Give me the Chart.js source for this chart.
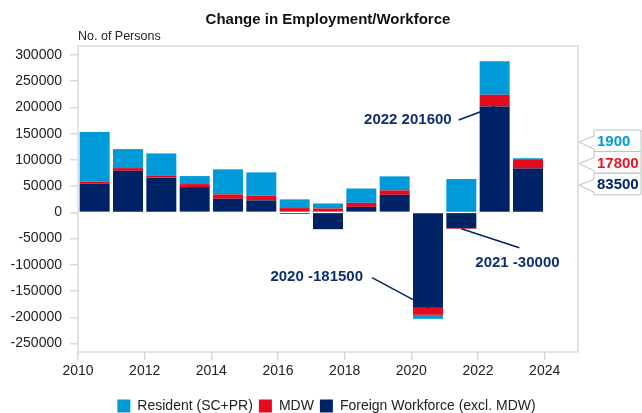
<!DOCTYPE html>
<html>
<head>
<meta charset="utf-8">
<title>Change in Employment/Workforce</title>
<script src="https://cdn.jsdelivr.net/npm/chart.js@4"></script>
<style>
    html, body { margin: 0; padding: 0; background: #ffffff; }
    #wrap { width: 642px; height: 413px; }
</style>
</head>
<body>
<div id="wrap"><canvas id="employmentChart" width="642" height="413"></canvas></div>
<script>
// values (persons), one entry per year
const years = [2010, 2011, 2012, 2013, 2014, 2015, 2016, 2017, 2018, 2019, 2020, 2021, 2022, 2023];
const foreign = [54500, 79300, 66700, 48200, 25900, 22900, -2700, -32000, 10500, 33500, -181500, -30000, 201600, 83500];
const mdw = [4600, 5100, 3800, 5700, 8400, 8700, 8200, 7500, 7700, 8400, -13700, -1200, 22500, 17800];
const resident = [93900, 36200, 41900, 15300, 47700, 44600, 16600, 9500, 27300, 26700, -7600, 63800, 63700, 1900];

const seriesNames = ["Resident (SC+PR)", "MDW", "Foreign Workforce (excl. MDW)"];
const yTicks = [-250000, -200000, -150000, -100000, -50000, 0, 50000, 100000, 150000, 200000, 250000, 300000];
const xTicks = [2010, 2012, 2014, 2016, 2018, 2020, 2022, 2024];
const xMin = 2010, xMax = 2025;
const yMin = -266000, yMax = 317000;

const chartTitle = "Change in Employment/Workforce";
const yTitle = "No. of Persons";

const FONT = "'Liberation Sans', Arial, sans-serif";
const NAVY = "#002366";
const RED = "#e30b1c";
const BLUE = "#009ad9";

document.addEventListener("DOMContentLoaded", () => {
    const pts = arr => years.map((yr, i) => ({ x: yr + 0.5, y: arr[i] }));

    // labelled bars: where the pointer starts on the bar, and offsets for line end / text
    const notes = [
        { i: 12, value: foreign[12], text: "2022 201600", line: [-36, 13.5], pos: [-43, 13.5], align: "right" },
        { i: 10, value: foreign[10], text: "2020 -181500", line: [-56, -30], pos: [-65, -31], align: "right" },
        { i: 11, value: foreign[11] + mdw[11], text: "2021 -30000", line: [58, 19], pos: [14, 34], align: "left" }
    ];

    const extras = {
        id: "extras",
        beforeDatasetsDraw(chart) {
            const { ctx, chartArea: a } = chart;
            ctx.save();
            ctx.strokeStyle = "#d9d9d9";
            ctx.lineWidth = 1.5;
            ctx.strokeRect(a.left, a.top, a.right - a.left, a.bottom - a.top);
            ctx.restore();
        },
        afterDraw(chart) {
            const { ctx, chartArea: a, scales: { x, y } } = chart;
            ctx.save();

            ctx.fillStyle = "#111111";
            ctx.font = "bold 15px " + FONT;
            ctx.textAlign = "center";
            ctx.textBaseline = "middle";
            ctx.fillText(chartTitle, (a.left + a.right) / 2, 20);

            ctx.fillStyle = "#222222";
            ctx.font = "12.5px " + FONT;
            ctx.textAlign = "left";
            ctx.fillText(yTitle, a.left, 37);

            // pointer labels
            ctx.strokeStyle = NAVY;
            ctx.fillStyle = "#0f2f6f";
            ctx.lineWidth = 1.5;
            ctx.font = "bold 15px " + FONT;
            notes.forEach(n => {
                const px = x.getPixelForValue(years[n.i] + 0.5);
                const py = y.getPixelForValue(n.value);
                ctx.beginPath();
                ctx.moveTo(px, py);
                ctx.lineTo(px + n.line[0], py + n.line[1]);
                ctx.stroke();
                ctx.textAlign = n.align;
                ctx.fillText(n.text, px + n.pos[0], py + n.pos[1]);
            });

            // callouts for the last year
            const last = years.length - 1;
            const callouts = [
                { text: String(resident[last]), color: BLUE },
                { text: String(mdw[last]), color: "#ee1122" },
                { text: String(foreign[last]), color: NAVY }
            ];
            const left = a.right + 16, w = 47, h = 21.6;
            callouts.forEach((c, k) => {
                const top = a.top + 84 + k * h;
                ctx.beginPath();
                ctx.moveTo(left, top);
                ctx.lineTo(left + w, top);
                ctx.lineTo(left + w, top + h);
                ctx.lineTo(left, top + h);
                ctx.lineTo(left, top + 19);
                ctx.lineTo(a.right + 1, top + 12);
                ctx.lineTo(left, top + 6);
                ctx.closePath();
                ctx.fillStyle = "#ffffff";
                ctx.fill();
                ctx.strokeStyle = "#bfbfbf";
                ctx.lineWidth = 1;
                ctx.stroke();
                ctx.fillStyle = c.color;
                ctx.font = "bold 15px " + FONT;
                ctx.textAlign = "left";
                ctx.fillText(c.text, left + 3, top + h / 2 + 1);
            });
            ctx.restore();
        }
    };

    const barStyle = {
        borderWidth: 0,
        barPercentage: 0.9,
        categoryPercentage: 1.0
    };

    const ctx = document.getElementById("employmentChart").getContext("2d");
    new Chart(ctx, {
        type: "bar",
        data: {
            datasets: [
                { label: seriesNames[2], data: pts(foreign), backgroundColor: NAVY, ...barStyle },
                { label: seriesNames[1], data: pts(mdw), backgroundColor: RED, ...barStyle },
                { label: seriesNames[0], data: pts(resident), backgroundColor: BLUE, ...barStyle }
            ]
        },
        options: {
            responsive: false,
            animation: false,
            devicePixelRatio: 1,
            layout: { padding: { left: 11, right: 0, top: 46, bottom: -10 } },
            plugins: {
                title: { display: false },
                tooltip: { enabled: false },
                legend: {
                    position: "bottom",
                    labels: {
                        boxWidth: 13,
                        boxHeight: 13,
                        padding: 6,
                        color: "#222222",
                        font: { family: FONT, size: 14 },
                        generateLabels: chart => Chart.defaults.plugins.legend.labels.generateLabels(chart).map(l => ({ ...l, lineWidth: 0 })),
                        sort: (p, q) => q.datasetIndex - p.datasetIndex
                    }
                }
            },
            scales: {
                x: {
                    type: "linear",
                    stacked: true,
                    min: xMin,
                    max: xMax,
                    offset: false,
                    afterBuildTicks: s => { s.ticks = xTicks.map(v => ({ value: v })); },
                    afterFit: s => { s.height = 41; },
                    grid: { offset: false, drawOnChartArea: false, drawTicks: true, tickLength: 8, color: "#d9d9d9", lineWidth: 1.5 },
                    border: { display: false },
                    ticks: { padding: 3, color: "#222222", font: { family: FONT, size: 14 }, maxRotation: 0, callback: v => String(v) }
                },
                y: {
                    stacked: true,
                    min: yMin,
                    max: yMax,
                    afterBuildTicks: s => { s.ticks = yTicks.map(v => ({ value: v })); },
                    afterFit: s => { s.width = 67; },
                    grid: { drawOnChartArea: false, drawTicks: true, tickLength: 8, color: "#d9d9d9", lineWidth: 1.5 },
                    border: { display: false },
                    ticks: { padding: 8, color: "#222222", font: { family: FONT, size: 14 }, callback: v => String(v) }
                },
                y2: {
                    position: "right",
                    grid: { display: false },
                    border: { display: false },
                    ticks: { display: false },
                    afterFit: s => { s.width = 64; }
                }
            }
        },
        plugins: [extras]
    });
});
</script>
</body>
</html>
